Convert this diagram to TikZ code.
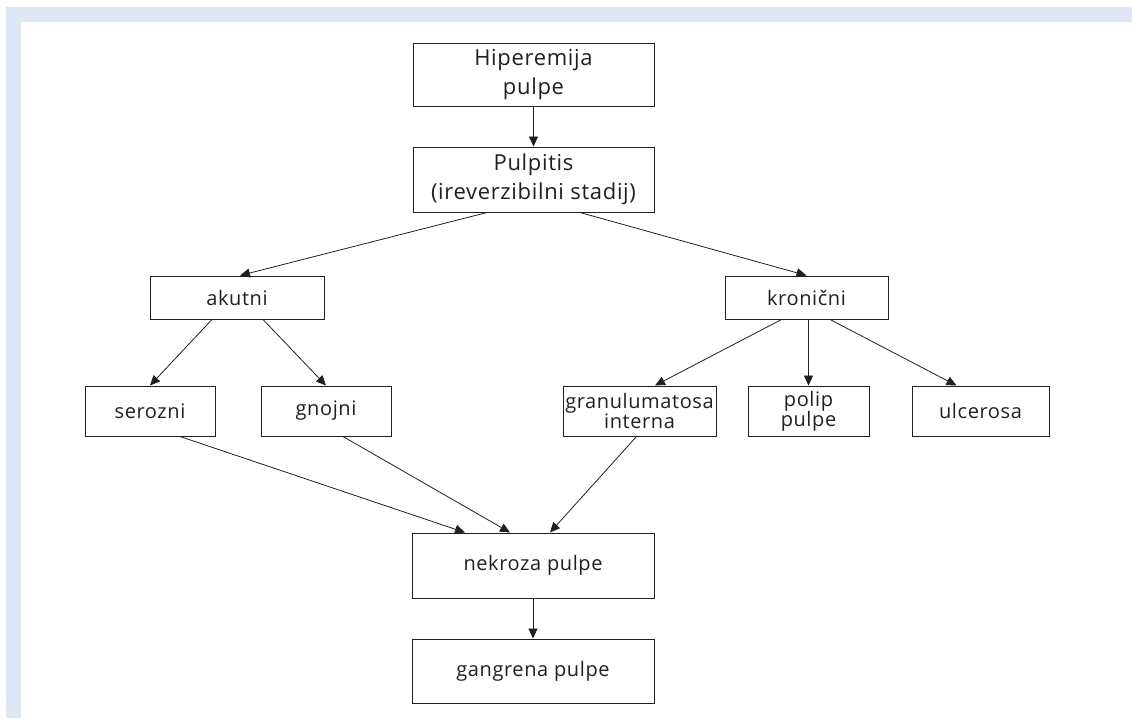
\documentclass[tikz,border=0pt]{standalone}
\usepackage{fontspec}
\setmainfont{Open Sans}[LetterSpace=3]
\usetikzlibrary{arrows.meta}
\definecolor{band}{HTML}{DFE7F4}
\definecolor{ink}{HTML}{231F20}
\tikzset{
  box/.style={draw=ink, line width=1pt, rectangle, inner sep=0pt, align=center,
    font=\fontsize{20}{20}\selectfont, text=ink},
  tallbox/.style={box, font=\fontsize{22}{29}\selectfont},
  conn/.style={draw=ink, line width=0.8pt, -{Triangle[length=10pt,width=9pt]}}
}
\begin{document}
\begin{tikzpicture}[x=1pt,y=-1pt]
\useasboundingbox (0,0) rectangle (1132,718);
\fill[white] (0,0) rectangle (1132,718);
\fill[band] (6,7) rectangle (1132,22);
\fill[band] (6,7) rectangle (21,718);

\node[tallbox, minimum width=241pt, minimum height=63pt] (hip) at (533.5,74.5) {Hiperemija\\pulpe};
\node[tallbox, minimum width=241pt, minimum height=65pt] (pul) at (533.5,179.5) {Pulpitis\\(ireverzibilni stadij)};
\node[box, minimum width=174pt, minimum height=43pt] (aku) at (237,297.5) {akutni};
\node[box, minimum width=163pt, minimum height=43pt] (kro) at (806.5,297.5) {kronični};
\node[box, minimum width=130pt, minimum height=50pt] (ser) at (150,411) {serozni};
\node[box, minimum width=130pt, minimum height=50pt] (gno) at (326,411) {gnojni};
\node[box, minimum width=153pt, minimum height=50pt] (gra) at (639.5,411) {granulumatosa\\interna};
\node[box, minimum width=121pt, minimum height=50pt] (pol) at (808.5,411) {polip\\pulpe};
\node[box, minimum width=137pt, minimum height=50pt] (ulc) at (980.5,411) {ulcerosa};
\node[box, minimum width=242pt, minimum height=65pt] (nek) at (533,565.5) {nekroza pulpe};
\node[box, minimum width=242pt, minimum height=64pt] (gan) at (533,671) {gangrena pulpe};

\draw[conn] (hip.south) -- (pul.north);
\draw[conn] ([xshift=-46.5pt]pul.south) -- ([xshift=3pt]aku.north);
\draw[conn] ([xshift=46.5pt]pul.south) -- (kro.north);
\draw[conn] ([xshift=-25pt]aku.south) -- (ser.north);
\draw[conn] ([xshift=26pt]aku.south) -- (gno.north);
\draw[conn] ([xshift=-25pt]kro.south) -- ([xshift=15.5pt]gra.north);
\draw[conn] ([xshift=2pt]kro.south) -- (pol.north);
\draw[conn] ([xshift=23.5pt]kro.south) -- ([xshift=-24pt]ulc.north);
\draw[conn] ([xshift=30pt]ser.south) -- ([xshift=-68pt]nek.north);
\draw[conn] ([xshift=17pt]gno.south) -- ([xshift=-23pt]nek.north);
\draw[conn] ([xshift=-3pt]gra.south) -- ([xshift=17pt]nek.north);
\draw[conn] (nek.south) -- (gan.north);
\end{tikzpicture}
\end{document}
